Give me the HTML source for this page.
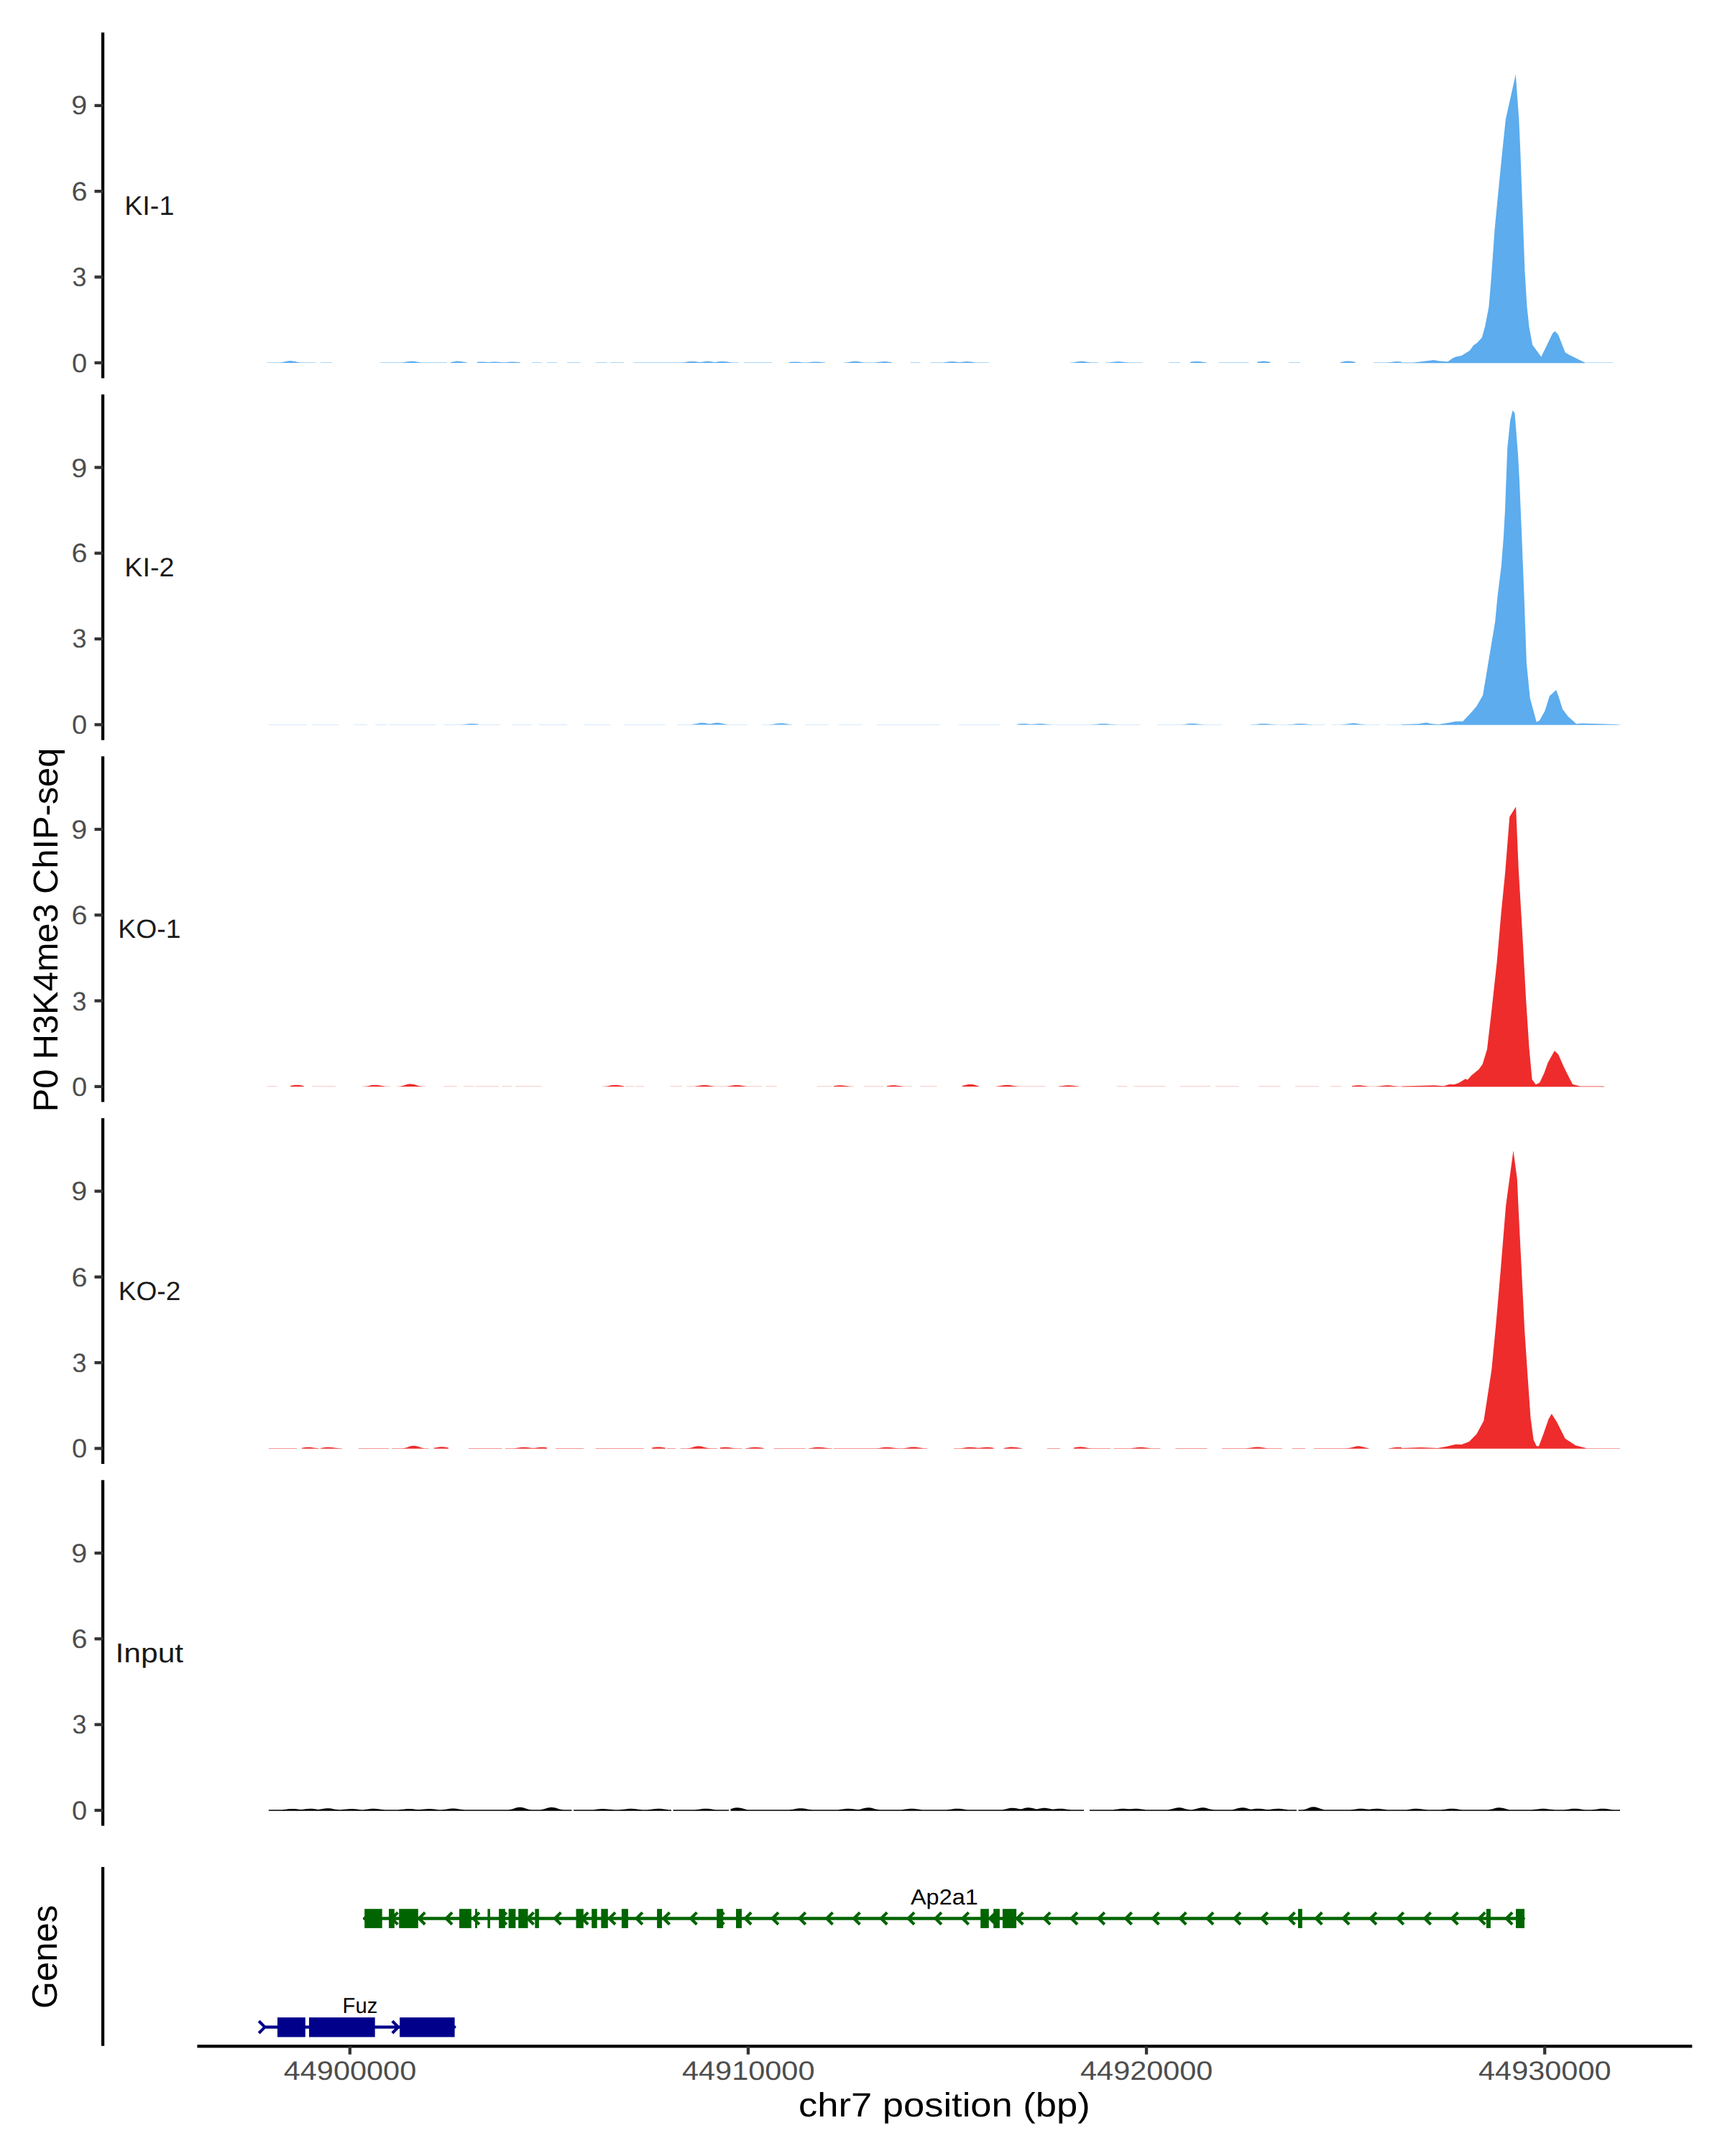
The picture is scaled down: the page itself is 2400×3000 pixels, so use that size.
<!DOCTYPE html><html><head><meta charset="utf-8"><style>html,body{margin:0;padding:0;background:#fff;width:2400px;height:3000px;overflow:hidden;}svg{display:block}</style></head><body>
<svg width="2400" height="3000" viewBox="0 0 2400 3000">
<rect x="0" y="0" width="2400" height="3000" fill="#fff"/>
<path d="M371.6,505.02 L371.6,504.58 L374.6,504.58 L377.6,504.58 L380.6,504.58 L383.6,504.58 L386.6,504.58 L389.6,504.52 L392.6,504.10 L395.6,503.43 L398.6,502.72 L401.6,502.22 L404.6,502.09 L407.6,502.38 L410.6,502.99 L413.6,503.72 L416.6,504.31 L419.6,504.58 L422.6,504.58 L425.6,504.58 L428.6,504.58 L431.6,504.58 L434.6,504.58 L437.6,504.58 L438.8,504.58 L438.8,505.02 Z M445.8,505.02 L445.8,504.58 L448.8,504.58 L451.8,504.58 L454.8,504.58 L457.8,504.58 L460.8,504.58 L462.0,504.58 L462.0,505.02 Z M529.3,505.02 L529.3,504.58 L532.3,504.58 L535.3,504.58 L538.3,504.58 L541.3,504.58 L544.3,504.58 L547.3,504.58 L550.3,504.58 L553.3,504.58 L556.3,504.58 L559.3,504.48 L562.3,504.09 L565.3,503.52 L568.3,502.98 L571.3,502.64 L574.3,502.61 L577.3,502.92 L580.3,503.44 L583.3,504.02 L586.3,504.44 L589.3,504.58 L592.3,504.58 L595.3,504.58 L598.3,504.58 L601.3,504.58 L604.3,504.58 L607.3,504.58 L610.3,504.58 L613.3,504.58 L616.3,504.58 L619.3,504.58 L622.0,504.58 L622.0,505.02 Z M626.7,505.02 L626.7,504.02 L629.7,503.44 L632.7,502.92 L635.7,502.61 L638.7,502.64 L641.7,502.98 L644.7,503.52 L647.7,504.09 L650.0,504.41 L650.0,505.02 Z M663.8,505.02 L663.8,503.77 L666.8,503.49 L669.8,503.38 L672.8,503.47 L675.8,503.73 L678.8,504.07 L681.8,503.89 L684.8,503.57 L687.8,503.40 L690.8,503.42 L693.8,503.63 L696.8,503.96 L699.8,504.29 L702.8,504.23 L705.8,503.89 L708.8,503.57 L711.8,503.40 L714.8,503.42 L717.8,503.63 L720.8,503.96 L723.8,504.29 L724.0,504.31 L724.0,505.02 Z M740.0,505.02 L740.0,504.58 L743.0,504.58 L746.0,504.58 L749.0,504.58 L752.0,504.58 L754.0,504.58 L754.0,505.02 Z M761.0,505.02 L761.0,504.58 L764.0,504.58 L767.0,504.58 L770.0,504.58 L773.0,504.58 L775.0,504.58 L775.0,505.02 Z M789.0,505.02 L789.0,504.58 L792.0,504.58 L795.0,504.58 L798.0,504.58 L801.0,504.58 L804.0,504.58 L807.0,504.58 L807.6,504.58 L807.6,505.02 Z M828.5,505.02 L828.5,504.58 L831.5,504.58 L834.5,504.58 L837.5,504.58 L840.5,504.58 L843.5,504.58 L844.7,504.58 L844.7,505.02 Z M849.0,505.02 L849.0,504.58 L852.0,504.58 L855.0,504.58 L858.0,504.58 L861.0,504.58 L864.0,504.58 L867.0,504.58 L868.0,504.58 L868.0,505.02 Z M881.8,505.02 L881.8,504.58 L884.8,504.58 L887.8,504.58 L890.8,504.58 L893.8,504.58 L896.8,504.58 L899.8,504.58 L902.8,504.58 L905.8,504.58 L908.8,504.58 L911.8,504.58 L914.8,504.58 L917.8,504.58 L920.8,504.58 L923.8,504.58 L926.8,504.58 L929.8,504.58 L932.8,504.58 L935.8,504.58 L938.8,504.58 L941.8,504.58 L944.8,504.58 L947.8,504.57 L950.8,504.34 L953.8,503.89 L956.8,503.37 L959.8,502.95 L962.8,502.78 L965.8,502.91 L968.8,503.30 L971.8,503.82 L974.8,504.06 L977.8,503.54 L980.8,503.07 L983.8,502.80 L986.8,502.84 L989.8,503.15 L992.8,503.64 L995.8,503.89 L998.8,503.37 L1001.8,502.95 L1004.8,502.78 L1007.8,502.91 L1010.8,503.30 L1013.8,503.82 L1016.8,504.29 L1019.8,504.56 L1022.8,504.58 L1025.8,504.58 L1028.0,504.58 L1028.0,505.02 Z M1034.8,505.02 L1034.8,504.58 L1037.8,504.58 L1040.8,504.58 L1043.8,504.58 L1046.8,504.58 L1049.8,504.58 L1052.8,504.58 L1055.8,504.58 L1058.8,504.58 L1061.8,504.58 L1064.8,504.58 L1067.8,504.58 L1070.8,504.58 L1073.8,504.58 L1074.0,504.58 L1074.0,505.02 Z M1097.5,505.02 L1097.5,504.04 L1100.5,503.70 L1103.5,503.45 L1106.5,503.38 L1109.5,503.52 L1112.5,503.81 L1115.5,504.15 L1118.5,504.44 L1121.5,504.51 L1124.5,504.26 L1127.5,503.92 L1130.5,503.60 L1133.5,503.41 L1136.5,503.41 L1139.5,503.60 L1142.5,503.92 L1145.5,504.26 L1148.5,504.51 L1148.5,505.02 Z M1174.0,505.02 L1174.0,504.58 L1177.0,504.43 L1180.0,504.02 L1183.0,503.50 L1186.0,503.04 L1189.0,502.80 L1192.0,502.85 L1195.0,503.18 L1198.0,503.68 L1201.0,504.18 L1204.0,504.51 L1207.0,504.58 L1210.0,504.58 L1213.0,504.58 L1216.0,504.52 L1219.0,504.25 L1222.0,503.83 L1225.0,503.41 L1228.0,503.14 L1231.0,503.09 L1234.0,503.30 L1237.0,503.68 L1240.0,504.12 L1241.0,504.25 L1241.0,505.02 Z M1266.7,505.02 L1266.7,504.58 L1269.7,504.58 L1272.7,504.58 L1275.7,504.58 L1278.7,504.58 L1280.6,504.58 L1280.6,505.02 Z M1294.5,505.02 L1294.5,504.58 L1297.5,504.58 L1300.5,504.58 L1303.5,504.58 L1306.5,504.58 L1309.5,504.58 L1312.5,504.41 L1315.5,504.05 L1318.5,503.61 L1321.5,503.25 L1324.5,503.08 L1327.5,503.17 L1330.5,503.48 L1333.5,503.90 L1336.5,503.90 L1339.5,503.48 L1342.5,503.17 L1345.5,503.08 L1348.5,503.25 L1351.5,503.61 L1354.5,504.05 L1357.5,504.41 L1360.5,504.58 L1363.5,504.58 L1366.5,504.58 L1369.5,504.58 L1372.5,504.58 L1375.5,504.58 L1375.7,504.58 L1375.7,505.02 Z M1489.0,505.02 L1489.0,504.58 L1492.0,504.43 L1495.0,504.02 L1498.0,503.50 L1501.0,503.04 L1504.0,502.80 L1507.0,502.85 L1510.0,503.18 L1513.0,503.68 L1516.0,504.18 L1519.0,504.51 L1522.0,504.58 L1525.0,504.58 L1528.0,504.58 L1528.7,504.58 L1528.7,505.02 Z M1538.0,505.02 L1538.0,504.58 L1541.0,504.57 L1544.0,504.36 L1547.0,503.98 L1550.0,503.54 L1553.0,503.21 L1556.0,503.08 L1559.0,503.21 L1562.0,503.54 L1565.0,503.98 L1568.0,504.36 L1571.0,504.57 L1574.0,504.58 L1577.0,504.58 L1580.0,504.58 L1583.0,504.58 L1586.0,504.58 L1589.0,504.58 L1589.0,505.02 Z M1626.0,505.02 L1626.0,504.58 L1629.0,504.58 L1632.0,504.58 L1635.0,504.58 L1638.0,504.58 L1641.0,504.58 L1642.0,504.58 L1642.0,505.02 Z M1656.0,505.02 L1656.0,503.86 L1659.0,503.34 L1662.0,502.93 L1665.0,502.78 L1668.0,502.93 L1671.0,503.34 L1674.0,503.86 L1677.0,504.32 L1679.5,504.54 L1679.5,505.02 Z M1695.7,505.02 L1695.7,504.58 L1698.7,504.58 L1701.7,504.58 L1704.7,504.58 L1707.7,504.58 L1710.7,504.58 L1713.7,504.58 L1716.7,504.58 L1719.7,504.58 L1722.7,504.58 L1725.7,504.58 L1728.7,504.58 L1731.7,504.58 L1734.7,504.58 L1737.5,504.58 L1737.5,505.02 Z M1749.0,505.02 L1749.0,503.78 L1752.0,503.20 L1755.0,502.75 L1758.0,502.58 L1761.0,502.75 L1764.0,503.20 L1767.0,503.78 L1767.6,503.89 L1767.6,505.02 Z M1793.0,505.02 L1793.0,504.58 L1796.0,504.58 L1799.0,504.58 L1802.0,504.58 L1805.0,504.58 L1808.0,504.58 L1809.0,504.58 L1809.0,505.02 Z M1865.0,505.02 L1865.0,504.09 L1868.0,503.48 L1871.0,502.87 L1874.0,502.46 L1877.0,502.40 L1880.0,502.70 L1883.0,503.27 L1886.0,503.90 L1886.0,505.02 Z M1911.0,505.02 L1911.0,504.58 L1914.0,504.58 L1917.0,504.58 L1920.0,504.58 L1923.0,504.58 L1926.0,504.58 L1929.0,504.57 L1932.0,504.36 L1935.0,503.98 L1938.0,503.54 L1941.0,503.21 L1944.0,503.08 L1947.0,503.21 L1950.0,503.54 L1950.0,505.02 Z" fill="#5CACEE"/>
<path d="M1950.0,505.2 L1950.0,504.45 L1966.3,504.45 L1994.9,501.03 L2002.0,502.25 L2014.3,503.27 L2021.4,498.17 L2025.5,496.54 L2033.7,494.80 L2044.9,487.80 L2050.0,480.60 L2055.1,477.00 L2061.8,469.80 L2066.3,453.50 L2071.4,427.00 L2074.5,390.20 L2079.6,318.80 L2085.7,255.50 L2090.8,204.50 L2094.9,165.70 L2108.8,103.50 L2113.3,165.70 L2115.3,210.60 L2118.4,294.30 L2121.4,375.90 L2124.5,427.00 L2127.6,455.50 L2132.2,480.00 L2144.3,496.44 L2160.2,463.70 L2163.3,460.80 L2168.0,465.70 L2177.6,490.21 L2182.7,493.38 L2190.8,497.46 L2205.1,504.45 L2205.1,505.2 Z" fill="#5CACEE"/>
<rect x="2205.1" y="504.58" width="38.9" height="0.45" fill="#5CACEE"/>
<path d="M374.0,1008.57 L374.0,1008.13 L377.0,1008.13 L380.0,1008.13 L383.0,1008.13 L386.0,1008.13 L389.0,1008.13 L392.0,1008.13 L395.0,1008.13 L398.0,1008.13 L401.0,1008.13 L404.0,1008.13 L407.0,1008.13 L410.0,1008.13 L413.0,1008.13 L416.0,1008.13 L419.0,1008.13 L422.0,1008.13 L425.0,1008.13 L427.0,1008.13 L427.0,1008.57 Z M434.0,1008.57 L434.0,1008.13 L437.0,1008.13 L440.0,1008.13 L443.0,1008.13 L446.0,1008.13 L449.0,1008.13 L452.0,1008.13 L455.0,1008.13 L458.0,1008.13 L461.0,1008.13 L464.0,1008.13 L467.0,1008.13 L470.0,1008.13 L471.0,1008.13 L471.0,1008.57 Z M492.0,1008.57 L492.0,1008.13 L495.0,1008.13 L498.0,1008.13 L501.0,1008.13 L504.0,1008.13 L507.0,1008.13 L510.0,1008.13 L511.0,1008.13 L511.0,1008.57 Z M522.0,1008.57 L522.0,1008.13 L525.0,1008.13 L528.0,1008.13 L531.0,1008.13 L534.0,1008.13 L537.0,1008.13 L538.6,1008.13 L538.6,1008.57 Z M541.0,1008.57 L541.0,1008.13 L544.0,1008.13 L547.0,1008.13 L550.0,1008.13 L553.0,1008.13 L556.0,1008.13 L559.0,1008.13 L562.0,1008.13 L565.0,1008.13 L568.0,1008.13 L571.0,1008.13 L574.0,1008.13 L577.0,1008.13 L580.0,1008.13 L583.0,1008.13 L586.0,1008.13 L589.0,1008.13 L592.0,1008.13 L595.0,1008.13 L598.0,1008.13 L601.0,1008.13 L604.0,1008.13 L606.0,1008.13 L606.0,1008.57 Z M617.0,1008.57 L617.0,1008.13 L620.0,1008.13 L623.0,1008.13 L626.0,1008.13 L629.0,1008.13 L632.0,1008.13 L635.0,1008.13 L638.0,1008.13 L641.0,1008.13 L644.0,1008.03 L647.0,1007.76 L650.0,1007.41 L653.0,1007.11 L656.0,1006.94 L659.0,1006.98 L662.0,1007.20 L665.0,1007.53 L666.0,1007.65 L666.0,1008.57 Z M668.4,1008.57 L668.4,1008.13 L671.4,1008.13 L674.4,1008.13 L677.4,1008.13 L680.4,1008.13 L683.4,1008.13 L686.4,1008.13 L689.4,1008.13 L692.4,1008.13 L695.4,1008.13 L696.0,1008.13 L696.0,1008.57 Z M712.5,1008.57 L712.5,1008.13 L715.5,1008.13 L718.5,1008.13 L721.5,1008.13 L724.5,1008.13 L727.5,1008.13 L730.5,1008.13 L733.5,1008.13 L736.5,1008.13 L739.5,1008.13 L740.0,1008.13 L740.0,1008.57 Z M749.6,1008.57 L749.6,1008.13 L752.6,1008.13 L755.6,1008.13 L758.6,1008.13 L761.6,1008.13 L764.6,1008.13 L767.6,1008.13 L770.6,1008.13 L773.6,1008.13 L776.6,1008.13 L779.6,1008.13 L782.6,1008.13 L785.6,1008.13 L788.6,1008.13 L789.0,1008.13 L789.0,1008.57 Z M812.0,1008.57 L812.0,1008.13 L815.0,1008.13 L818.0,1008.13 L821.0,1008.13 L824.0,1008.13 L827.0,1008.13 L830.0,1008.13 L833.0,1008.13 L836.0,1008.13 L839.0,1008.13 L842.0,1008.13 L845.0,1008.13 L848.0,1008.13 L849.0,1008.13 L849.0,1008.57 Z M868.0,1008.57 L868.0,1008.13 L871.0,1008.13 L874.0,1008.13 L877.0,1008.13 L880.0,1008.13 L883.0,1008.13 L886.0,1008.13 L889.0,1008.13 L892.0,1008.13 L895.0,1008.13 L898.0,1008.13 L901.0,1008.13 L904.0,1008.13 L907.0,1008.13 L910.0,1008.13 L913.0,1008.13 L916.0,1008.13 L919.0,1008.13 L922.0,1008.13 L925.0,1008.13 L926.0,1008.13 L926.0,1008.57 Z M942.0,1008.57 L942.0,1008.13 L945.0,1008.13 L948.0,1008.13 L951.0,1008.13 L954.0,1008.13 L957.0,1008.13 L960.0,1008.13 L963.0,1008.03 L966.0,1007.57 L969.0,1006.88 L972.0,1006.19 L975.0,1005.73 L978.0,1005.65 L981.0,1006.00 L984.0,1006.64 L987.0,1007.36 L990.0,1006.88 L993.0,1006.19 L996.0,1005.73 L999.0,1005.65 L1002.0,1006.00 L1005.0,1006.64 L1008.0,1007.36 L1011.0,1007.92 L1014.0,1008.13 L1017.0,1008.13 L1020.0,1008.13 L1023.0,1008.13 L1026.0,1008.13 L1029.0,1008.13 L1032.0,1008.13 L1035.0,1008.13 L1038.0,1008.13 L1039.5,1008.13 L1039.5,1008.57 Z M1060.0,1008.57 L1060.0,1008.13 L1063.0,1008.13 L1066.0,1008.13 L1069.0,1008.13 L1072.0,1008.06 L1075.0,1007.73 L1078.0,1007.23 L1081.0,1006.73 L1084.0,1006.40 L1087.0,1006.35 L1090.0,1006.59 L1093.0,1007.05 L1096.0,1007.57 L1099.0,1007.98 L1102.0,1008.13 L1102.0,1008.57 Z M1120.7,1008.57 L1120.7,1008.13 L1123.7,1008.13 L1126.7,1008.13 L1129.7,1008.13 L1132.7,1008.13 L1135.7,1008.13 L1138.7,1008.13 L1141.7,1008.13 L1144.7,1008.13 L1147.7,1008.13 L1150.7,1008.13 L1153.0,1008.13 L1153.0,1008.57 Z M1167.0,1008.57 L1167.0,1008.13 L1170.0,1008.13 L1173.0,1008.13 L1176.0,1008.13 L1179.0,1008.13 L1182.0,1008.13 L1185.0,1008.13 L1188.0,1008.13 L1191.0,1008.13 L1194.0,1008.13 L1197.0,1008.13 L1199.4,1008.13 L1199.4,1008.57 Z M1220.0,1008.57 L1220.0,1008.13 L1223.0,1008.13 L1226.0,1008.13 L1229.0,1008.13 L1232.0,1008.13 L1235.0,1008.13 L1238.0,1008.13 L1241.0,1008.13 L1244.0,1008.13 L1247.0,1008.13 L1250.0,1008.13 L1253.0,1008.13 L1256.0,1008.13 L1259.0,1008.13 L1262.0,1008.13 L1265.0,1008.13 L1268.0,1008.13 L1271.0,1008.13 L1274.0,1008.13 L1277.0,1008.13 L1280.0,1008.13 L1283.0,1008.13 L1286.0,1008.13 L1289.0,1008.13 L1292.0,1008.13 L1295.0,1008.13 L1298.0,1008.13 L1301.0,1008.13 L1304.0,1008.13 L1307.0,1008.13 L1308.0,1008.13 L1308.0,1008.57 Z M1334.0,1008.57 L1334.0,1008.13 L1337.0,1008.13 L1340.0,1008.13 L1343.0,1008.13 L1346.0,1008.13 L1349.0,1008.13 L1352.0,1008.13 L1355.0,1008.13 L1358.0,1008.13 L1361.0,1008.13 L1364.0,1008.13 L1367.0,1008.13 L1370.0,1008.13 L1373.0,1008.13 L1376.0,1008.13 L1379.0,1008.13 L1382.0,1008.13 L1385.0,1008.13 L1388.0,1008.13 L1391.0,1008.13 L1392.0,1008.13 L1392.0,1008.57 Z M1415.0,1008.57 L1415.0,1007.65 L1418.0,1007.30 L1421.0,1007.03 L1424.0,1006.93 L1427.0,1007.03 L1430.0,1007.30 L1433.0,1007.65 L1436.0,1007.86 L1439.0,1007.53 L1442.0,1007.20 L1445.0,1006.98 L1448.0,1006.94 L1451.0,1007.11 L1454.0,1007.41 L1457.0,1007.76 L1460.0,1008.03 L1463.0,1008.13 L1466.0,1008.13 L1469.0,1008.13 L1472.0,1008.13 L1475.0,1008.13 L1478.0,1008.13 L1481.0,1008.13 L1484.0,1008.13 L1487.0,1008.13 L1490.0,1008.13 L1493.0,1008.13 L1496.0,1008.13 L1499.0,1008.13 L1502.0,1008.13 L1505.0,1008.13 L1508.0,1008.13 L1511.0,1008.13 L1514.0,1008.13 L1517.0,1008.13 L1520.0,1008.12 L1523.0,1007.95 L1526.0,1007.65 L1529.0,1007.30 L1532.0,1007.03 L1535.0,1006.93 L1538.0,1007.03 L1541.0,1007.30 L1544.0,1007.65 L1547.0,1007.95 L1550.0,1008.12 L1553.0,1008.13 L1556.0,1008.13 L1559.0,1008.13 L1562.0,1008.13 L1565.0,1008.13 L1568.0,1008.13 L1571.0,1008.13 L1574.0,1008.13 L1577.0,1008.13 L1580.0,1008.13 L1583.0,1008.13 L1586.0,1008.13 L1586.7,1008.13 L1586.7,1008.57 Z M1610.0,1008.57 L1610.0,1008.13 L1613.0,1008.13 L1616.0,1008.13 L1619.0,1008.13 L1622.0,1008.13 L1625.0,1008.13 L1628.0,1008.13 L1631.0,1008.13 L1634.0,1008.13 L1637.0,1008.13 L1640.0,1008.13 L1643.0,1008.13 L1646.0,1008.00 L1649.0,1007.67 L1652.0,1007.23 L1655.0,1006.85 L1658.0,1006.64 L1661.0,1006.69 L1664.0,1006.96 L1667.0,1007.38 L1670.0,1007.80 L1673.0,1008.07 L1676.0,1008.13 L1679.0,1008.13 L1682.0,1008.13 L1685.0,1008.13 L1688.0,1008.13 L1691.0,1008.13 L1694.0,1008.13 L1697.0,1008.13 L1700.0,1008.13 L1700.0,1008.57 Z M1739.8,1008.57 L1739.8,1008.13 L1742.8,1008.12 L1745.8,1007.97 L1748.8,1007.67 L1751.8,1007.32 L1754.8,1007.04 L1757.8,1006.93 L1760.8,1007.02 L1763.8,1007.28 L1766.8,1007.62 L1769.8,1007.94 L1772.8,1008.11 L1775.8,1008.13 L1778.8,1008.13 L1781.8,1008.13 L1784.8,1008.13 L1787.8,1008.13 L1790.8,1008.13 L1793.8,1008.12 L1796.8,1007.97 L1799.8,1007.67 L1802.8,1007.32 L1805.8,1007.04 L1808.8,1006.93 L1811.8,1007.02 L1814.8,1007.28 L1817.8,1007.62 L1820.8,1007.94 L1823.8,1008.11 L1826.8,1008.13 L1829.8,1008.13 L1832.8,1008.13 L1835.8,1008.13 L1838.8,1008.13 L1841.8,1008.13 L1844.0,1008.13 L1844.0,1008.57 Z M1853.0,1008.57 L1853.0,1008.13 L1856.0,1008.13 L1859.0,1008.13 L1862.0,1008.13 L1865.0,1008.13 L1868.0,1008.11 L1871.0,1007.87 L1874.0,1007.41 L1877.0,1006.89 L1880.0,1006.48 L1883.0,1006.33 L1886.0,1006.48 L1889.0,1006.89 L1892.0,1007.41 L1895.0,1007.87 L1898.0,1008.11 L1901.0,1008.13 L1904.0,1008.13 L1907.0,1008.13 L1910.0,1008.13 L1913.0,1008.13 L1916.0,1008.13 L1919.0,1008.13 L1920.7,1008.13 L1920.7,1008.57 Z M1927.6,1008.57 L1927.6,1008.13 L1930.6,1008.13 L1933.6,1008.13 L1936.6,1008.13 L1939.6,1008.13 L1942.6,1008.13 L1945.6,1008.13 L1948.6,1008.13 L1950.0,1008.13 L1950.0,1008.57 Z" fill="#5CACEE"/>
<path d="M1950.0,1008.7 L1950.0,1008.00 L1973.5,1007.26 L1984.1,1005.52 L1992.7,1007.26 L2001.2,1007.91 L2014.0,1006.06 L2025.7,1003.66 L2035.3,1003.66 L2048.2,990.00 L2054.5,982.50 L2063.1,967.50 L2080.2,865.10 L2083.4,831.00 L2088.7,788.30 L2091.9,747.80 L2094.0,709.40 L2097.2,624.00 L2101.1,585.60 L2104.5,571.10 L2107.5,574.90 L2112.2,634.70 L2114.3,675.20 L2117.5,752.00 L2120.7,833.10 L2123.9,922.70 L2128.8,971.80 L2137.8,1004.86 L2142.0,1002.57 L2149.5,988.90 L2155.9,968.60 L2165.1,960.10 L2168.7,969.70 L2174.0,986.70 L2181.5,996.69 L2193.2,1007.15 L2200.7,1006.50 L2250.0,1008.00 L2250.0,1008.7 Z" fill="#5CACEE"/>
<rect x="2250.0" y="1008.13" width="4.0" height="0.45" fill="#5CACEE"/>
<path d="M371.6,1512.12 L371.6,1511.68 L374.6,1511.68 L377.6,1511.68 L380.6,1511.68 L383.6,1511.68 L385.5,1511.68 L385.5,1512.12 Z M404.0,1512.12 L404.0,1510.88 L407.0,1510.30 L410.0,1509.85 L413.0,1509.68 L416.0,1509.85 L419.0,1510.30 L422.0,1510.88 L422.6,1510.99 L422.6,1512.12 Z M434.0,1512.12 L434.0,1511.68 L437.0,1511.68 L440.0,1511.68 L443.0,1511.68 L446.0,1511.68 L449.0,1511.68 L452.0,1511.68 L455.0,1511.68 L458.0,1511.68 L461.0,1511.68 L464.0,1511.68 L466.7,1511.68 L466.7,1512.12 Z M503.8,1512.12 L503.8,1511.68 L506.8,1511.67 L509.8,1511.41 L512.8,1510.91 L515.8,1510.33 L518.8,1509.87 L521.8,1509.68 L524.8,1509.83 L527.8,1510.26 L530.8,1510.84 L533.8,1511.36 L536.8,1511.65 L539.8,1511.68 L542.8,1511.68 L543.0,1511.68 L543.0,1512.12 Z M552.5,1512.12 L552.5,1511.68 L555.5,1511.67 L558.5,1511.28 L561.5,1510.44 L564.5,1509.42 L567.5,1508.58 L570.5,1508.19 L573.5,1508.39 L576.5,1509.11 L579.5,1510.10 L582.5,1511.04 L585.5,1511.60 L588.5,1511.68 L591.5,1511.68 L592.0,1511.68 L592.0,1512.12 Z M617.4,1512.12 L617.4,1511.68 L620.4,1511.68 L623.4,1511.68 L626.4,1511.68 L629.4,1511.68 L632.4,1511.68 L635.4,1511.68 L636.0,1511.68 L636.0,1512.12 Z M645.0,1512.12 L645.0,1511.68 L648.0,1511.68 L651.0,1511.68 L654.0,1511.68 L657.0,1511.68 L659.0,1511.68 L659.0,1512.12 Z M661.5,1512.12 L661.5,1511.68 L664.5,1511.68 L667.5,1511.68 L670.5,1511.68 L673.5,1511.68 L676.5,1511.68 L679.5,1511.68 L682.5,1511.68 L685.5,1511.68 L688.5,1511.68 L691.5,1511.68 L694.0,1511.68 L694.0,1512.12 Z M698.6,1512.12 L698.6,1511.68 L701.6,1511.68 L704.6,1511.68 L707.6,1511.68 L710.6,1511.68 L712.5,1511.68 L712.5,1512.12 Z M717.0,1512.12 L717.0,1511.68 L720.0,1511.68 L723.0,1511.68 L726.0,1511.68 L729.0,1511.68 L732.0,1511.68 L735.0,1511.68 L738.0,1511.68 L741.0,1511.68 L744.0,1511.68 L747.0,1511.68 L750.0,1511.68 L753.0,1511.68 L754.0,1511.68 L754.0,1512.12 Z M837.7,1512.12 L837.7,1511.68 L840.7,1511.67 L843.7,1511.43 L846.7,1510.93 L849.7,1510.35 L852.7,1509.88 L855.7,1509.68 L858.7,1509.82 L861.7,1510.24 L864.7,1510.82 L867.7,1511.34 L868.0,1511.39 L868.0,1512.12 Z M870.0,1512.12 L870.0,1511.68 L873.0,1511.68 L876.0,1511.68 L879.0,1511.68 L882.0,1511.68 L882.0,1512.12 Z M884.0,1512.12 L884.0,1511.68 L887.0,1511.68 L890.0,1511.68 L893.0,1511.68 L896.0,1511.68 L896.0,1512.12 Z M933.0,1512.12 L933.0,1511.68 L936.0,1511.68 L939.0,1511.68 L942.0,1511.68 L945.0,1511.68 L948.0,1511.68 L949.0,1511.68 L949.0,1512.12 Z M956.0,1512.12 L956.0,1511.68 L959.0,1511.68 L962.0,1511.68 L965.0,1511.66 L968.0,1511.42 L971.0,1510.96 L974.0,1510.44 L977.0,1510.03 L980.0,1509.88 L983.0,1510.03 L986.0,1510.44 L989.0,1510.96 L992.0,1511.42 L995.0,1511.66 L998.0,1511.68 L1001.0,1511.68 L1004.0,1511.68 L1007.0,1511.68 L1010.0,1511.66 L1013.0,1511.42 L1016.0,1510.96 L1019.0,1510.44 L1022.0,1510.03 L1025.0,1509.88 L1028.0,1510.03 L1031.0,1510.44 L1034.0,1510.96 L1037.0,1511.42 L1040.0,1511.66 L1043.0,1511.68 L1046.0,1511.68 L1049.0,1511.68 L1052.0,1511.68 L1055.0,1511.68 L1058.0,1511.68 L1060.0,1511.68 L1060.0,1512.12 Z M1065.0,1512.12 L1065.0,1511.68 L1068.0,1511.68 L1071.0,1511.68 L1074.0,1511.68 L1077.0,1511.68 L1080.0,1511.68 L1081.0,1511.68 L1081.0,1512.12 Z M1137.0,1512.12 L1137.0,1511.68 L1140.0,1511.68 L1143.0,1511.68 L1146.0,1511.68 L1149.0,1511.68 L1152.0,1511.68 L1155.0,1511.68 L1158.0,1511.68 L1158.0,1512.12 Z M1160.0,1512.12 L1160.0,1511.08 L1163.0,1510.64 L1166.0,1510.31 L1169.0,1510.18 L1172.0,1510.31 L1175.0,1510.64 L1178.0,1511.08 L1181.0,1511.46 L1184.0,1511.67 L1187.0,1511.68 L1188.0,1511.68 L1188.0,1512.12 Z M1201.7,1512.12 L1201.7,1511.68 L1204.7,1511.68 L1207.7,1511.68 L1210.7,1511.68 L1213.7,1511.68 L1216.7,1511.68 L1219.7,1511.68 L1222.7,1511.68 L1225.7,1511.68 L1228.7,1511.68 L1229.6,1511.68 L1229.6,1512.12 Z M1234.0,1512.12 L1234.0,1511.08 L1237.0,1510.64 L1240.0,1510.31 L1243.0,1510.18 L1246.0,1510.31 L1249.0,1510.64 L1252.0,1511.08 L1255.0,1511.46 L1258.0,1511.67 L1261.0,1511.68 L1264.0,1511.68 L1267.0,1511.68 L1269.0,1511.68 L1269.0,1512.12 Z M1280.6,1512.12 L1280.6,1511.68 L1283.6,1511.68 L1286.6,1511.68 L1289.6,1511.68 L1292.6,1511.68 L1295.6,1511.68 L1298.6,1511.68 L1301.6,1511.68 L1303.8,1511.68 L1303.8,1512.12 Z M1338.6,1512.12 L1338.6,1511.11 L1341.6,1510.30 L1344.6,1509.45 L1347.6,1508.84 L1350.6,1508.69 L1353.6,1509.04 L1356.6,1509.77 L1359.6,1510.64 L1361.8,1511.20 L1361.8,1512.12 Z M1385.0,1512.12 L1385.0,1511.68 L1388.0,1511.51 L1391.0,1511.06 L1394.0,1510.48 L1397.0,1509.97 L1400.0,1509.70 L1403.0,1509.76 L1406.0,1510.12 L1409.0,1510.68 L1412.0,1511.24 L1415.0,1511.60 L1418.0,1511.68 L1421.0,1511.68 L1424.0,1511.68 L1427.0,1511.68 L1430.0,1511.68 L1433.0,1511.68 L1436.0,1511.68 L1439.0,1511.68 L1442.0,1511.68 L1445.0,1511.68 L1448.0,1511.68 L1451.0,1511.68 L1454.0,1511.68 L1454.5,1511.68 L1454.5,1512.12 Z M1473.0,1512.12 L1473.0,1511.62 L1476.0,1511.35 L1479.0,1510.93 L1482.0,1510.51 L1485.0,1510.24 L1488.0,1510.19 L1491.0,1510.40 L1494.0,1510.78 L1497.0,1511.22 L1500.0,1511.55 L1501.0,1511.62 L1501.0,1512.12 Z M1554.0,1512.12 L1554.0,1511.68 L1557.0,1511.68 L1560.0,1511.68 L1563.0,1511.68 L1566.0,1511.68 L1568.0,1511.68 L1568.0,1512.12 Z M1577.4,1512.12 L1577.4,1511.68 L1580.4,1511.68 L1583.4,1511.68 L1586.4,1511.68 L1589.4,1511.68 L1592.4,1511.68 L1595.4,1511.68 L1598.4,1511.68 L1601.4,1511.68 L1604.4,1511.68 L1607.4,1511.68 L1610.4,1511.68 L1613.4,1511.68 L1616.4,1511.68 L1619.4,1511.68 L1621.5,1511.68 L1621.5,1512.12 Z M1642.0,1512.12 L1642.0,1511.68 L1645.0,1511.68 L1648.0,1511.68 L1651.0,1511.68 L1654.0,1511.68 L1657.0,1511.68 L1660.0,1511.68 L1663.0,1511.68 L1666.0,1511.68 L1669.0,1511.68 L1672.0,1511.68 L1675.0,1511.68 L1678.0,1511.68 L1681.0,1511.68 L1684.0,1511.68 L1684.0,1512.12 Z M1691.0,1512.12 L1691.0,1511.68 L1694.0,1511.68 L1697.0,1511.68 L1700.0,1511.68 L1703.0,1511.68 L1706.0,1511.68 L1709.0,1511.68 L1712.0,1511.68 L1715.0,1511.68 L1718.0,1511.68 L1721.0,1511.68 L1723.5,1511.68 L1723.5,1512.12 Z M1751.0,1512.12 L1751.0,1511.68 L1754.0,1511.68 L1757.0,1511.68 L1760.0,1511.68 L1763.0,1511.68 L1766.0,1511.68 L1769.0,1511.68 L1772.0,1511.68 L1775.0,1511.68 L1778.0,1511.68 L1781.0,1511.68 L1781.5,1511.68 L1781.5,1512.12 Z M1802.0,1512.12 L1802.0,1511.68 L1805.0,1511.68 L1808.0,1511.68 L1811.0,1511.68 L1814.0,1511.68 L1817.0,1511.68 L1820.0,1511.68 L1823.0,1511.68 L1826.0,1511.68 L1829.0,1511.68 L1832.0,1511.68 L1835.0,1511.68 L1835.0,1512.12 Z M1851.0,1512.12 L1851.0,1511.68 L1854.0,1511.68 L1857.0,1511.68 L1860.0,1511.68 L1863.0,1511.68 L1866.0,1511.68 L1867.0,1511.68 L1867.0,1512.12 Z M1881.0,1512.12 L1881.0,1511.08 L1884.0,1510.64 L1887.0,1510.31 L1890.0,1510.18 L1893.0,1510.31 L1896.0,1510.64 L1899.0,1511.08 L1902.0,1511.46 L1905.0,1511.67 L1908.0,1511.68 L1911.0,1511.68 L1914.0,1511.68 L1917.0,1511.55 L1920.0,1511.22 L1923.0,1510.78 L1926.0,1510.40 L1929.0,1510.19 L1932.0,1510.24 L1935.0,1510.51 L1938.0,1510.93 L1941.0,1511.35 L1944.0,1511.62 L1947.0,1511.68 L1950.0,1511.68 L1950.0,1512.12 Z" fill="#EE2C2C"/>
<path d="M1950.0,1512.2 L1950.0,1511.55 L1995.9,1510.32 L2008.5,1511.37 L2016.8,1508.63 L2023.1,1509.06 L2029.3,1507.05 L2038.7,1501.37 L2041.9,1502.53 L2047.1,1496.52 L2057.5,1488.10 L2062.7,1480.80 L2069.0,1460.00 L2075.3,1405.70 L2082.6,1338.90 L2088.8,1267.90 L2094.0,1215.70 L2100.3,1136.40 L2109.1,1122.40 L2112.8,1209.40 L2118.1,1299.20 L2123.3,1393.20 L2127.5,1457.90 L2131.6,1502.00 L2136.8,1509.06 L2142.1,1506.42 L2148.3,1493.40 L2153.5,1478.70 L2162.9,1462.00 L2168.2,1467.30 L2175.5,1484.00 L2181.7,1496.52 L2188.0,1508.63 L2198.4,1511.48 L2231.8,1511.55 L2231.8,1512.2 Z" fill="#EE2C2C"/>
<rect x="2231.8" y="1511.68" width="0.2" height="0.45" fill="#EE2C2C"/>
<path d="M374.0,2015.67 L374.0,2015.23 L377.0,2015.23 L380.0,2015.23 L383.0,2015.23 L386.0,2015.23 L389.0,2015.23 L392.0,2015.23 L395.0,2015.23 L398.0,2015.23 L401.0,2015.23 L404.0,2015.23 L407.0,2015.23 L410.0,2015.23 L413.0,2015.23 L413.0,2015.67 Z M420.0,2015.67 L420.0,2014.63 L423.0,2014.19 L426.0,2013.86 L429.0,2013.73 L432.0,2013.86 L435.0,2014.19 L438.0,2014.63 L441.0,2015.01 L443.5,2015.20 L443.5,2015.67 Z M446.0,2015.67 L446.0,2014.90 L449.0,2014.48 L452.0,2014.06 L455.0,2013.79 L458.0,2013.74 L461.0,2013.95 L464.0,2014.33 L467.0,2014.77 L470.0,2015.10 L473.0,2015.23 L476.0,2015.23 L476.0,2015.67 Z M499.0,2015.67 L499.0,2015.23 L502.0,2015.23 L505.0,2015.23 L508.0,2015.23 L511.0,2015.23 L514.0,2015.23 L517.0,2015.23 L520.0,2015.23 L523.0,2015.23 L526.0,2015.23 L529.0,2015.23 L532.0,2015.23 L535.0,2015.23 L538.0,2015.23 L541.0,2015.23 L541.0,2015.67 Z M545.5,2015.67 L545.5,2015.23 L548.5,2015.23 L551.5,2015.23 L554.5,2015.23 L557.5,2015.23 L560.5,2015.21 L563.5,2014.77 L566.5,2013.89 L569.5,2012.87 L572.5,2012.06 L575.5,2011.73 L578.5,2011.99 L581.5,2012.75 L584.5,2013.75 L587.5,2014.67 L590.5,2015.18 L593.5,2015.23 L596.5,2015.23 L596.5,2015.67 Z M603.5,2015.67 L603.5,2014.86 L606.5,2014.33 L609.5,2013.76 L612.5,2013.35 L615.5,2013.23 L618.5,2013.46 L621.5,2013.94 L624.0,2014.43 L624.0,2015.67 Z M652.0,2015.67 L652.0,2015.23 L655.0,2015.23 L658.0,2015.23 L661.0,2015.23 L664.0,2015.23 L667.0,2015.23 L670.0,2015.23 L673.0,2015.23 L676.0,2015.23 L679.0,2015.23 L682.0,2015.23 L685.0,2015.23 L688.0,2015.23 L691.0,2015.23 L694.0,2015.23 L697.0,2015.23 L698.6,2015.23 L698.6,2015.67 Z M703.0,2015.67 L703.0,2015.23 L706.0,2015.23 L709.0,2015.23 L712.0,2015.23 L715.0,2015.17 L718.0,2014.90 L721.0,2014.48 L724.0,2014.06 L727.0,2013.79 L730.0,2013.74 L733.0,2013.95 L736.0,2014.33 L739.0,2014.77 L742.0,2015.01 L745.0,2014.63 L748.0,2014.19 L751.0,2013.86 L754.0,2013.73 L757.0,2013.86 L760.0,2014.19 L761.0,2014.33 L761.0,2015.67 Z M773.0,2015.67 L773.0,2015.23 L776.0,2015.23 L779.0,2015.23 L782.0,2015.23 L785.0,2015.23 L788.0,2015.23 L791.0,2015.23 L794.0,2015.23 L797.0,2015.23 L800.0,2015.23 L803.0,2015.23 L806.0,2015.23 L809.0,2015.23 L812.0,2015.23 L812.0,2015.67 Z M828.5,2015.67 L828.5,2015.23 L831.5,2015.23 L834.5,2015.23 L837.5,2015.23 L840.5,2015.23 L843.5,2015.23 L846.5,2015.23 L849.5,2015.23 L852.5,2015.23 L855.5,2015.23 L858.5,2015.23 L861.5,2015.23 L864.5,2015.23 L867.5,2015.23 L870.5,2015.23 L873.5,2015.23 L876.5,2015.23 L879.5,2015.23 L882.5,2015.23 L885.5,2015.23 L888.5,2015.23 L891.5,2015.23 L894.5,2015.23 L895.7,2015.23 L895.7,2015.67 Z M907.0,2015.67 L907.0,2014.51 L910.0,2013.99 L913.0,2013.58 L916.0,2013.43 L919.0,2013.58 L922.0,2013.99 L925.0,2014.51 L926.0,2014.67 L926.0,2015.67 Z M928.0,2015.67 L928.0,2015.23 L931.0,2015.23 L934.0,2015.23 L937.0,2015.23 L940.0,2015.23 L940.0,2015.67 Z M946.7,2015.67 L946.7,2015.23 L949.7,2015.23 L952.7,2015.23 L955.7,2015.23 L958.7,2015.02 L961.7,2014.38 L964.7,2013.52 L967.7,2012.73 L970.7,2012.28 L973.7,2012.31 L976.7,2012.82 L979.7,2013.64 L982.7,2014.49 L985.7,2015.08 L988.7,2015.23 L991.7,2015.23 L994.7,2015.23 L997.7,2015.23 L997.7,2015.67 Z M1002.0,2015.67 L1002.0,2014.33 L1005.0,2013.95 L1008.0,2013.74 L1011.0,2013.79 L1014.0,2014.06 L1017.0,2014.48 L1020.0,2014.90 L1023.0,2015.17 L1026.0,2015.23 L1029.0,2015.23 L1032.0,2015.23 L1032.5,2015.23 L1032.5,2015.67 Z M1037.0,2015.67 L1037.0,2015.17 L1040.0,2014.90 L1043.0,2014.48 L1046.0,2014.06 L1049.0,2013.79 L1052.0,2013.74 L1055.0,2013.95 L1058.0,2014.33 L1061.0,2014.77 L1062.7,2014.98 L1062.7,2015.67 Z M1076.6,2015.67 L1076.6,2015.23 L1079.6,2015.23 L1082.6,2015.23 L1085.6,2015.23 L1088.6,2015.23 L1091.6,2015.23 L1094.6,2015.23 L1097.6,2015.23 L1100.6,2015.23 L1103.6,2015.23 L1106.6,2015.23 L1109.6,2015.23 L1112.6,2015.23 L1115.6,2015.23 L1118.6,2015.23 L1120.7,2015.23 L1120.7,2015.67 Z M1125.0,2015.67 L1125.0,2015.17 L1128.0,2014.90 L1131.0,2014.48 L1134.0,2014.06 L1137.0,2013.79 L1140.0,2013.74 L1143.0,2013.95 L1146.0,2014.33 L1149.0,2014.77 L1152.0,2015.10 L1155.0,2015.23 L1157.8,2015.23 L1157.8,2015.67 Z M1160.0,2015.67 L1160.0,2015.23 L1163.0,2015.23 L1166.0,2015.23 L1169.0,2015.23 L1172.0,2015.23 L1175.0,2015.23 L1178.0,2015.23 L1181.0,2015.23 L1184.0,2015.23 L1187.0,2015.23 L1190.0,2015.23 L1193.0,2015.23 L1196.0,2015.23 L1199.0,2015.23 L1202.0,2015.23 L1205.0,2015.23 L1208.0,2015.23 L1211.0,2015.23 L1214.0,2015.23 L1217.0,2015.23 L1220.0,2015.17 L1223.0,2014.90 L1226.0,2014.48 L1229.0,2014.06 L1232.0,2013.79 L1235.0,2013.74 L1238.0,2013.95 L1241.0,2014.33 L1244.0,2014.77 L1247.0,2015.10 L1250.0,2015.23 L1253.0,2015.23 L1256.0,2015.21 L1259.0,2014.97 L1262.0,2014.51 L1265.0,2013.99 L1268.0,2013.58 L1271.0,2013.43 L1274.0,2013.58 L1277.0,2013.99 L1280.0,2014.51 L1283.0,2014.97 L1286.0,2015.21 L1289.0,2015.23 L1290.0,2015.23 L1290.0,2015.67 Z M1327.0,2015.67 L1327.0,2015.23 L1330.0,2015.23 L1333.0,2015.23 L1336.0,2015.17 L1339.0,2014.90 L1342.0,2014.48 L1345.0,2014.06 L1348.0,2013.79 L1351.0,2013.74 L1354.0,2013.95 L1357.0,2014.33 L1360.0,2014.77 L1363.0,2014.77 L1366.0,2014.33 L1369.0,2013.95 L1372.0,2013.74 L1375.0,2013.79 L1378.0,2014.06 L1381.0,2014.48 L1382.6,2014.71 L1382.6,2015.67 Z M1396.5,2015.67 L1396.5,2014.90 L1399.5,2014.42 L1402.5,2013.91 L1405.5,2013.54 L1408.5,2013.43 L1411.5,2013.63 L1414.5,2014.07 L1417.5,2014.59 L1420.5,2015.03 L1422.0,2015.16 L1422.0,2015.67 Z M1457.0,2015.67 L1457.0,2015.23 L1460.0,2015.23 L1463.0,2015.23 L1466.0,2015.23 L1469.0,2015.23 L1472.0,2015.23 L1475.0,2015.23 L1475.0,2015.67 Z M1494.0,2015.67 L1494.0,2014.43 L1497.0,2013.85 L1500.0,2013.40 L1503.0,2013.23 L1506.0,2013.40 L1509.0,2013.85 L1512.0,2014.43 L1515.0,2014.94 L1518.0,2015.21 L1521.0,2015.23 L1524.0,2015.23 L1527.0,2015.23 L1530.0,2015.23 L1533.0,2015.23 L1536.0,2015.23 L1539.0,2015.23 L1542.0,2015.23 L1545.0,2015.23 L1545.0,2015.67 Z M1549.6,2015.67 L1549.6,2015.23 L1552.6,2015.23 L1555.6,2015.23 L1558.6,2015.23 L1561.6,2015.23 L1564.6,2015.23 L1567.6,2015.23 L1570.6,2015.23 L1573.6,2015.13 L1576.6,2014.82 L1579.6,2014.39 L1582.6,2013.99 L1585.6,2013.76 L1588.6,2013.77 L1591.6,2014.02 L1594.6,2014.42 L1597.6,2014.85 L1600.6,2015.15 L1603.6,2015.23 L1606.6,2015.23 L1609.6,2015.23 L1612.6,2015.23 L1614.5,2015.23 L1614.5,2015.67 Z M1635.4,2015.67 L1635.4,2015.23 L1638.4,2015.23 L1641.4,2015.23 L1644.4,2015.23 L1647.4,2015.23 L1650.4,2015.23 L1653.4,2015.23 L1656.4,2015.23 L1659.4,2015.23 L1662.4,2015.23 L1665.4,2015.23 L1668.4,2015.23 L1671.4,2015.23 L1674.4,2015.23 L1677.4,2015.23 L1679.5,2015.23 L1679.5,2015.67 Z M1700.0,2015.67 L1700.0,2015.23 L1703.0,2015.23 L1706.0,2015.23 L1709.0,2015.23 L1712.0,2015.23 L1715.0,2015.23 L1718.0,2015.23 L1721.0,2015.23 L1724.0,2015.23 L1727.0,2015.23 L1730.0,2015.23 L1733.0,2015.23 L1736.0,2015.08 L1739.0,2014.67 L1742.0,2014.15 L1745.0,2013.69 L1748.0,2013.45 L1751.0,2013.50 L1754.0,2013.83 L1757.0,2014.33 L1760.0,2014.83 L1763.0,2015.16 L1766.0,2015.23 L1769.0,2015.23 L1772.0,2015.23 L1775.0,2015.23 L1778.0,2015.23 L1781.0,2015.23 L1784.0,2015.23 L1784.0,2015.67 Z M1797.7,2015.67 L1797.7,2015.23 L1800.7,2015.23 L1803.7,2015.23 L1806.7,2015.23 L1809.7,2015.23 L1812.7,2015.23 L1815.7,2015.23 L1816.0,2015.23 L1816.0,2015.67 Z M1828.0,2015.67 L1828.0,2015.23 L1831.0,2015.23 L1834.0,2015.23 L1837.0,2015.23 L1840.0,2015.23 L1843.0,2015.23 L1846.0,2015.23 L1849.0,2015.23 L1852.0,2015.23 L1855.0,2015.23 L1858.0,2015.23 L1861.0,2015.23 L1864.0,2015.23 L1867.0,2015.23 L1870.0,2015.23 L1873.0,2015.23 L1876.0,2015.12 L1879.0,2014.56 L1882.0,2013.73 L1885.0,2012.90 L1888.0,2012.34 L1891.0,2012.26 L1894.0,2012.67 L1897.0,2013.44 L1900.0,2014.30 L1903.0,2014.98 L1904.5,2015.17 L1904.5,2015.67 Z M1932.0,2015.67 L1932.0,2015.17 L1935.0,2014.90 L1938.0,2014.48 L1941.0,2014.06 L1944.0,2013.79 L1947.0,2013.74 L1950.0,2013.95 L1950.0,2015.67 Z" fill="#EE2C2C"/>
<path d="M1950.0,2015.8 L1950.0,2015.10 L1977.1,2014.04 L2000.1,2015.05 L2012.6,2012.72 L2025.2,2009.69 L2033.5,2010.10 L2044.0,2005.96 L2054.4,1995.40 L2064.4,1976.70 L2075.3,1905.70 L2081.5,1841.00 L2087.8,1767.90 L2095.1,1678.10 L2105.5,1600.90 L2110.8,1640.50 L2112.8,1684.40 L2117.0,1767.90 L2121.2,1851.40 L2125.4,1914.00 L2129.5,1972.50 L2133.7,2003.84 L2137.9,2012.22 L2141.0,2012.22 L2147.3,1995.40 L2154.6,1974.60 L2158.8,1967.30 L2166.1,1978.70 L2177.6,2001.71 L2192.2,2011.21 L2206.8,2015.10 L2206.8,2015.8 Z" fill="#EE2C2C"/>
<rect x="2206.8" y="2015.23" width="47.2" height="0.45" fill="#EE2C2C"/>
<path d="M373.8,2519.80 L373.8,2518.20 L376.8,2518.20 L379.8,2518.20 L382.8,2518.20 L385.8,2518.20 L388.8,2518.20 L391.8,2518.19 L394.8,2518.02 L397.8,2517.72 L400.8,2517.37 L403.8,2517.10 L406.8,2517.00 L409.8,2517.10 L412.8,2517.37 L415.8,2517.72 L418.8,2518.02 L421.8,2517.71 L424.8,2517.27 L427.8,2516.90 L430.8,2516.71 L433.8,2516.77 L436.8,2517.06 L439.8,2517.48 L442.8,2517.89 L445.8,2517.62 L448.8,2517.04 L451.8,2516.52 L454.8,2516.23 L457.8,2516.26 L460.8,2516.61 L463.8,2517.16 L466.8,2517.72 L469.8,2518.11 L472.8,2518.20 L475.8,2518.11 L478.8,2517.85 L481.8,2517.51 L484.8,2517.19 L487.8,2517.02 L490.8,2517.04 L493.8,2517.25 L496.8,2517.58 L499.8,2517.91 L502.8,2518.14 L505.8,2518.14 L508.8,2517.85 L511.8,2517.44 L514.8,2517.02 L517.8,2516.75 L520.8,2516.72 L523.8,2516.93 L526.8,2517.32 L529.8,2517.75 L532.8,2518.08 L535.8,2518.20 L538.8,2518.20 L541.8,2518.20 L544.8,2518.20 L547.8,2518.20 L550.8,2518.20 L553.8,2518.19 L556.8,2518.04 L559.8,2517.74 L562.8,2517.39 L565.8,2517.11 L568.8,2517.00 L571.8,2517.09 L574.8,2517.35 L577.8,2517.69 L580.8,2518.01 L583.8,2518.10 L586.8,2517.83 L589.8,2517.48 L592.8,2517.18 L595.8,2517.01 L598.8,2517.05 L601.8,2517.27 L604.8,2517.60 L607.8,2517.93 L610.8,2518.15 L613.8,2518.20 L616.8,2518.07 L619.8,2517.68 L622.8,2517.16 L625.8,2516.69 L628.8,2516.42 L631.8,2516.46 L634.8,2516.77 L637.8,2517.26 L640.8,2517.77 L643.8,2518.12 L646.8,2518.20 L649.8,2518.20 L652.8,2518.20 L655.8,2518.20 L658.8,2518.20 L661.8,2518.20 L664.8,2518.20 L667.8,2518.20 L670.8,2518.20 L673.8,2518.20 L676.8,2518.20 L679.8,2518.20 L682.8,2518.20 L685.8,2518.20 L688.8,2518.20 L691.8,2518.20 L694.8,2518.20 L697.8,2518.20 L700.8,2518.20 L703.8,2518.20 L706.8,2518.20 L709.8,2518.01 L712.8,2517.31 L715.8,2516.31 L718.8,2515.37 L721.8,2514.79 L724.8,2514.77 L727.8,2515.31 L730.8,2516.24 L733.8,2517.24 L736.8,2517.98 L739.8,2518.20 L742.8,2518.20 L745.8,2518.20 L748.8,2518.20 L751.8,2518.20 L754.8,2517.85 L757.8,2517.02 L760.8,2516.01 L763.8,2515.14 L766.8,2514.72 L769.8,2514.88 L772.8,2515.57 L775.8,2516.55 L778.8,2517.51 L781.8,2518.10 L784.8,2518.20 L787.8,2518.20 L790.8,2518.20 L793.8,2518.20 L795.5,2518.20 L795.5,2519.80 Z M798.0,2519.80 L798.0,2518.20 L801.0,2518.20 L804.0,2518.20 L807.0,2518.20 L810.0,2518.20 L813.0,2518.20 L816.0,2518.20 L819.0,2518.20 L822.0,2518.20 L825.0,2518.15 L828.0,2517.93 L831.0,2517.60 L834.0,2517.27 L837.0,2517.05 L840.0,2517.01 L843.0,2517.18 L846.0,2517.48 L849.0,2517.83 L852.0,2518.10 L855.0,2518.20 L858.0,2518.20 L861.0,2518.20 L864.0,2518.12 L867.0,2517.82 L870.0,2517.39 L873.0,2516.99 L876.0,2516.74 L879.0,2516.73 L882.0,2516.96 L885.0,2517.36 L888.0,2517.79 L891.0,2518.10 L894.0,2518.20 L897.0,2518.20 L900.0,2518.20 L903.0,2518.07 L906.0,2517.74 L909.0,2517.30 L912.0,2516.92 L915.0,2516.71 L918.0,2516.76 L921.0,2517.03 L924.0,2517.45 L927.0,2517.87 L930.0,2518.14 L933.0,2518.20 L934.0,2518.20 L934.0,2519.80 Z M936.5,2519.80 L936.5,2518.20 L939.5,2518.20 L942.5,2518.20 L945.5,2518.20 L948.5,2518.20 L951.5,2518.20 L954.5,2518.20 L957.5,2518.20 L960.5,2518.20 L963.5,2518.20 L966.5,2518.20 L969.5,2518.03 L972.5,2517.67 L975.5,2517.23 L978.5,2516.87 L981.5,2516.70 L984.5,2516.79 L987.5,2517.10 L990.5,2517.52 L993.5,2517.93 L996.5,2518.17 L999.5,2518.20 L1002.5,2518.20 L1005.5,2518.20 L1008.5,2518.20 L1011.5,2518.20 L1014.0,2518.20 L1014.0,2519.80 Z M1016.5,2519.80 L1016.5,2517.14 L1019.5,2516.26 L1022.5,2515.54 L1025.5,2515.21 L1028.5,2515.38 L1031.5,2515.99 L1034.5,2516.85 L1037.5,2517.65 L1040.5,2518.14 L1043.5,2518.20 L1046.5,2518.20 L1049.5,2518.20 L1052.5,2518.20 L1055.5,2518.20 L1058.5,2518.20 L1061.5,2518.20 L1064.5,2518.20 L1067.5,2518.20 L1070.5,2518.20 L1073.5,2518.20 L1076.5,2518.20 L1079.5,2518.20 L1082.5,2518.20 L1085.5,2518.20 L1088.5,2518.20 L1091.5,2518.20 L1094.5,2518.20 L1097.5,2518.20 L1100.5,2518.08 L1103.5,2517.67 L1106.5,2517.10 L1109.5,2516.57 L1112.5,2516.24 L1115.5,2516.24 L1118.5,2516.57 L1121.5,2517.10 L1124.5,2517.67 L1127.5,2518.08 L1130.5,2518.20 L1133.5,2518.20 L1136.5,2518.20 L1139.5,2518.20 L1142.5,2518.20 L1145.5,2518.20 L1148.5,2518.20 L1151.5,2518.20 L1154.5,2518.20 L1157.5,2518.20 L1160.5,2518.20 L1163.5,2518.20 L1166.5,2518.14 L1169.5,2517.87 L1172.5,2517.45 L1175.5,2517.03 L1178.5,2516.76 L1181.5,2516.71 L1184.5,2516.92 L1187.5,2517.30 L1190.5,2517.74 L1193.5,2518.07 L1196.5,2517.65 L1199.5,2516.85 L1202.5,2515.99 L1205.5,2515.38 L1208.5,2515.21 L1211.5,2515.54 L1214.5,2516.26 L1217.5,2517.14 L1220.5,2517.86 L1223.5,2518.19 L1226.5,2518.20 L1229.5,2518.20 L1232.5,2518.20 L1235.5,2518.20 L1238.5,2518.20 L1241.5,2518.20 L1244.5,2518.20 L1247.5,2518.20 L1250.5,2518.20 L1253.5,2518.19 L1256.5,2517.99 L1259.5,2517.61 L1262.5,2517.18 L1265.5,2516.83 L1268.5,2516.70 L1271.5,2516.82 L1274.5,2517.15 L1277.5,2517.58 L1280.5,2517.97 L1283.5,2518.18 L1286.5,2518.20 L1289.5,2518.20 L1292.5,2518.20 L1295.5,2518.20 L1298.5,2518.20 L1301.5,2518.20 L1304.5,2518.20 L1307.5,2518.20 L1310.5,2518.20 L1313.5,2518.20 L1316.5,2518.20 L1319.5,2518.03 L1322.5,2517.67 L1325.5,2517.23 L1328.5,2516.87 L1331.5,2516.70 L1334.5,2516.79 L1337.5,2517.10 L1340.5,2517.52 L1343.5,2517.93 L1346.5,2518.17 L1349.5,2518.20 L1352.5,2518.20 L1355.5,2518.20 L1358.5,2518.20 L1361.5,2518.20 L1364.5,2518.20 L1367.5,2518.20 L1370.5,2518.20 L1373.5,2518.20 L1376.5,2518.20 L1379.5,2518.20 L1382.5,2518.20 L1385.5,2518.20 L1388.5,2518.20 L1391.5,2518.20 L1394.5,2518.15 L1397.5,2517.74 L1400.5,2517.07 L1403.5,2516.36 L1406.5,2515.85 L1409.5,2515.71 L1412.5,2515.98 L1415.5,2516.59 L1418.5,2517.31 L1421.5,2517.14 L1424.5,2516.26 L1427.5,2515.54 L1430.5,2515.21 L1433.5,2515.38 L1436.5,2515.99 L1439.5,2516.85 L1442.5,2517.54 L1445.5,2516.83 L1448.5,2516.16 L1451.5,2515.75 L1454.5,2515.75 L1457.5,2516.16 L1460.5,2516.83 L1463.5,2517.54 L1466.5,2517.52 L1469.5,2517.10 L1472.5,2516.79 L1475.5,2516.70 L1478.5,2516.87 L1481.5,2517.23 L1484.5,2517.67 L1487.5,2518.03 L1490.5,2518.20 L1493.5,2518.20 L1496.5,2518.20 L1499.5,2518.20 L1502.5,2518.20 L1505.5,2518.20 L1508.0,2518.20 L1508.0,2519.80 Z M1516.0,2519.80 L1516.0,2518.20 L1519.0,2518.20 L1522.0,2518.20 L1525.0,2518.20 L1528.0,2518.20 L1531.0,2518.20 L1534.0,2518.20 L1537.0,2518.20 L1540.0,2518.20 L1543.0,2518.20 L1546.0,2518.20 L1549.0,2518.14 L1552.0,2517.87 L1555.0,2517.45 L1558.0,2517.03 L1561.0,2516.76 L1564.0,2516.71 L1567.0,2516.92 L1570.0,2517.30 L1573.0,2517.30 L1576.0,2516.92 L1579.0,2516.71 L1582.0,2516.76 L1585.0,2517.03 L1588.0,2517.45 L1591.0,2517.87 L1594.0,2518.14 L1597.0,2518.20 L1600.0,2518.20 L1603.0,2518.20 L1606.0,2518.20 L1609.0,2518.20 L1612.0,2518.20 L1615.0,2518.20 L1618.0,2518.20 L1621.0,2518.20 L1624.0,2518.20 L1627.0,2517.95 L1630.0,2517.27 L1633.0,2516.41 L1636.0,2515.64 L1639.0,2515.23 L1642.0,2515.31 L1645.0,2515.87 L1648.0,2516.70 L1651.0,2517.53 L1654.0,2518.09 L1657.0,2518.20 L1660.0,2517.95 L1663.0,2517.27 L1666.0,2516.41 L1669.0,2515.64 L1672.0,2515.23 L1675.0,2515.31 L1678.0,2515.87 L1681.0,2516.70 L1684.0,2517.53 L1687.0,2518.09 L1690.0,2518.20 L1693.0,2518.20 L1696.0,2518.20 L1699.0,2518.20 L1702.0,2518.20 L1705.0,2518.20 L1708.0,2518.20 L1711.0,2518.20 L1714.0,2518.14 L1717.0,2517.65 L1720.0,2516.85 L1723.0,2515.99 L1726.0,2515.38 L1729.0,2515.21 L1732.0,2515.54 L1735.0,2516.26 L1738.0,2517.14 L1741.0,2517.67 L1744.0,2517.23 L1747.0,2516.87 L1750.0,2516.70 L1753.0,2516.79 L1756.0,2517.10 L1759.0,2517.52 L1762.0,2517.93 L1765.0,2518.07 L1768.0,2517.74 L1771.0,2517.30 L1774.0,2516.92 L1777.0,2516.71 L1780.0,2516.76 L1783.0,2517.03 L1786.0,2517.45 L1789.0,2517.87 L1792.0,2518.14 L1795.0,2518.20 L1798.0,2518.20 L1801.0,2518.20 L1804.0,2518.20 L1804.0,2519.80 Z M1806.5,2519.80 L1806.5,2518.20 L1809.5,2518.20 L1812.5,2518.17 L1815.5,2517.64 L1818.5,2516.63 L1821.5,2515.47 L1824.5,2514.56 L1827.5,2514.20 L1830.5,2514.52 L1833.5,2515.40 L1836.5,2516.55 L1839.5,2517.59 L1842.5,2518.15 L1845.5,2518.20 L1848.5,2518.20 L1851.5,2518.20 L1854.5,2518.20 L1857.5,2518.20 L1860.5,2518.20 L1863.5,2518.20 L1866.5,2518.20 L1869.5,2518.20 L1872.5,2518.20 L1875.5,2518.20 L1878.5,2518.19 L1881.5,2518.00 L1884.5,2517.63 L1887.5,2517.19 L1890.5,2516.84 L1893.5,2516.70 L1896.5,2516.81 L1899.5,2517.14 L1902.5,2517.57 L1905.5,2517.76 L1908.5,2517.33 L1911.5,2516.94 L1914.5,2516.72 L1917.5,2516.75 L1920.5,2517.01 L1923.5,2517.42 L1926.5,2517.84 L1929.5,2518.13 L1932.5,2518.20 L1935.5,2518.20 L1938.5,2518.20 L1941.5,2518.20 L1944.5,2518.20 L1947.5,2518.20 L1950.5,2518.20 L1953.5,2518.20 L1956.5,2518.16 L1959.5,2517.90 L1962.5,2517.49 L1965.5,2517.07 L1968.5,2516.78 L1971.5,2516.71 L1974.5,2516.89 L1977.5,2517.26 L1980.5,2517.70 L1983.5,2518.05 L1986.5,2518.20 L1989.5,2518.20 L1992.5,2518.20 L1995.5,2518.20 L1998.5,2518.20 L2001.5,2518.20 L2004.5,2518.20 L2007.5,2518.03 L2010.5,2517.67 L2013.5,2517.23 L2016.5,2516.87 L2019.5,2516.70 L2022.5,2516.79 L2025.5,2517.10 L2028.5,2517.52 L2031.5,2517.93 L2034.5,2518.17 L2037.5,2518.20 L2040.5,2518.20 L2043.5,2518.20 L2046.5,2518.20 L2049.5,2518.20 L2052.5,2518.20 L2055.5,2518.20 L2058.5,2518.20 L2061.5,2518.20 L2064.5,2518.20 L2067.5,2518.20 L2070.5,2518.19 L2073.5,2517.86 L2076.5,2517.14 L2079.5,2516.26 L2082.5,2515.54 L2085.5,2515.21 L2088.5,2515.38 L2091.5,2515.99 L2094.5,2516.85 L2097.5,2517.65 L2100.5,2518.14 L2103.5,2518.20 L2106.5,2518.20 L2109.5,2518.20 L2112.5,2518.20 L2115.5,2518.20 L2118.5,2518.20 L2121.5,2518.20 L2124.5,2518.20 L2127.5,2518.20 L2130.5,2518.20 L2133.5,2518.11 L2136.5,2517.80 L2139.5,2517.38 L2142.5,2516.97 L2145.5,2516.73 L2148.5,2516.73 L2151.5,2516.97 L2154.5,2517.38 L2157.5,2517.80 L2160.5,2518.11 L2163.5,2518.20 L2166.5,2518.20 L2169.5,2518.20 L2172.5,2518.20 L2175.5,2518.20 L2178.5,2518.03 L2181.5,2517.67 L2184.5,2517.23 L2187.5,2516.87 L2190.5,2516.70 L2193.5,2516.79 L2196.5,2517.10 L2199.5,2517.52 L2202.5,2517.93 L2205.5,2518.17 L2208.5,2518.20 L2211.5,2518.20 L2214.5,2518.20 L2217.5,2518.03 L2220.5,2517.67 L2223.5,2517.23 L2226.5,2516.87 L2229.5,2516.70 L2232.5,2516.79 L2235.5,2517.10 L2238.5,2517.52 L2241.5,2517.93 L2244.5,2518.17 L2247.5,2518.20 L2250.5,2518.20 L2253.5,2518.20 L2254.0,2518.20 L2254.0,2519.80 Z" fill="#000000"/>
<rect x="140.92" y="45.30" width="4.27" height="481.00" fill="#000"/>
<rect x="131.5" y="502.67" width="11.55" height="4.27" fill="#333333"/>
<text transform="matrix(1.0572 0 0 1.0207 99.89 517.93)" font-family="Liberation Sans, sans-serif" text-rendering="geometricPrecision" font-size="36" fill="#4D4D4D">0</text>
<rect x="131.5" y="383.36" width="11.55" height="4.27" fill="#333333"/>
<text transform="matrix(0.9953 0 0 1.0225 100.55 398.08)" font-family="Liberation Sans, sans-serif" text-rendering="geometricPrecision" font-size="36" fill="#4D4D4D">3</text>
<rect x="131.5" y="264.05" width="11.55" height="4.27" fill="#333333"/>
<text transform="matrix(1.1000 0 0 1.0245 99.55 279.13)" font-family="Liberation Sans, sans-serif" text-rendering="geometricPrecision" font-size="36" fill="#4D4D4D">6</text>
<rect x="131.5" y="144.74" width="11.55" height="4.27" fill="#333333"/>
<text transform="matrix(1.0965 0 0 1.0275 99.24 159.38)" font-family="Liberation Sans, sans-serif" text-rendering="geometricPrecision" font-size="36" fill="#4D4D4D">9</text>
<rect x="140.92" y="548.85" width="4.27" height="481.00" fill="#000"/>
<rect x="131.5" y="1006.22" width="11.55" height="4.27" fill="#333333"/>
<text transform="matrix(1.0572 0 0 1.0207 99.89 1021.28)" font-family="Liberation Sans, sans-serif" text-rendering="geometricPrecision" font-size="36" fill="#4D4D4D">0</text>
<rect x="131.5" y="886.90" width="11.55" height="4.27" fill="#333333"/>
<text transform="matrix(0.9953 0 0 1.0225 100.55 901.43)" font-family="Liberation Sans, sans-serif" text-rendering="geometricPrecision" font-size="36" fill="#4D4D4D">3</text>
<rect x="131.5" y="767.60" width="11.55" height="4.27" fill="#333333"/>
<text transform="matrix(1.1000 0 0 1.0245 99.55 782.48)" font-family="Liberation Sans, sans-serif" text-rendering="geometricPrecision" font-size="36" fill="#4D4D4D">6</text>
<rect x="131.5" y="648.29" width="11.55" height="4.27" fill="#333333"/>
<text transform="matrix(1.0965 0 0 1.0275 99.24 663.53)" font-family="Liberation Sans, sans-serif" text-rendering="geometricPrecision" font-size="36" fill="#4D4D4D">9</text>
<rect x="140.92" y="1052.40" width="4.27" height="481.00" fill="#000"/>
<rect x="131.5" y="1509.77" width="11.55" height="4.27" fill="#333333"/>
<text transform="matrix(1.0572 0 0 1.0207 99.89 1524.63)" font-family="Liberation Sans, sans-serif" text-rendering="geometricPrecision" font-size="36" fill="#4D4D4D">0</text>
<rect x="131.5" y="1390.46" width="11.55" height="4.27" fill="#333333"/>
<text transform="matrix(0.9953 0 0 1.0225 100.55 1405.58)" font-family="Liberation Sans, sans-serif" text-rendering="geometricPrecision" font-size="36" fill="#4D4D4D">3</text>
<rect x="131.5" y="1271.15" width="11.55" height="4.27" fill="#333333"/>
<text transform="matrix(1.1000 0 0 1.0245 99.55 1285.83)" font-family="Liberation Sans, sans-serif" text-rendering="geometricPrecision" font-size="36" fill="#4D4D4D">6</text>
<rect x="131.5" y="1151.84" width="11.55" height="4.27" fill="#333333"/>
<text transform="matrix(1.0965 0 0 1.0275 99.24 1166.88)" font-family="Liberation Sans, sans-serif" text-rendering="geometricPrecision" font-size="36" fill="#4D4D4D">9</text>
<rect x="140.92" y="1555.95" width="4.27" height="481.00" fill="#000"/>
<rect x="131.5" y="2013.32" width="11.55" height="4.27" fill="#333333"/>
<text transform="matrix(1.0572 0 0 1.0207 99.89 2027.98)" font-family="Liberation Sans, sans-serif" text-rendering="geometricPrecision" font-size="36" fill="#4D4D4D">0</text>
<rect x="131.5" y="1894.01" width="11.55" height="4.27" fill="#333333"/>
<text transform="matrix(0.9953 0 0 1.0225 100.55 1908.93)" font-family="Liberation Sans, sans-serif" text-rendering="geometricPrecision" font-size="36" fill="#4D4D4D">3</text>
<rect x="131.5" y="1774.69" width="11.55" height="4.27" fill="#333333"/>
<text transform="matrix(1.1000 0 0 1.0245 99.55 1789.98)" font-family="Liberation Sans, sans-serif" text-rendering="geometricPrecision" font-size="36" fill="#4D4D4D">6</text>
<rect x="131.5" y="1655.38" width="11.55" height="4.27" fill="#333333"/>
<text transform="matrix(1.0965 0 0 1.0275 99.24 1670.23)" font-family="Liberation Sans, sans-serif" text-rendering="geometricPrecision" font-size="36" fill="#4D4D4D">9</text>
<rect x="140.92" y="2059.50" width="4.27" height="481.00" fill="#000"/>
<rect x="131.5" y="2516.86" width="11.55" height="4.27" fill="#333333"/>
<text transform="matrix(1.0572 0 0 1.0207 99.89 2532.13)" font-family="Liberation Sans, sans-serif" text-rendering="geometricPrecision" font-size="36" fill="#4D4D4D">0</text>
<rect x="131.5" y="2397.55" width="11.55" height="4.27" fill="#333333"/>
<text transform="matrix(0.9953 0 0 1.0225 100.55 2412.28)" font-family="Liberation Sans, sans-serif" text-rendering="geometricPrecision" font-size="36" fill="#4D4D4D">3</text>
<rect x="131.5" y="2278.24" width="11.55" height="4.27" fill="#333333"/>
<text transform="matrix(1.1000 0 0 1.0245 99.55 2293.33)" font-family="Liberation Sans, sans-serif" text-rendering="geometricPrecision" font-size="36" fill="#4D4D4D">6</text>
<rect x="131.5" y="2158.93" width="11.55" height="4.27" fill="#333333"/>
<text transform="matrix(1.0965 0 0 1.0275 99.24 2173.58)" font-family="Liberation Sans, sans-serif" text-rendering="geometricPrecision" font-size="36" fill="#4D4D4D">9</text>
<text transform="matrix(1.0181 0 0 1.0150 173.24 298.80)" font-family="Liberation Sans, sans-serif" text-rendering="geometricPrecision" font-size="37" fill="#1A1A1A">KI-1</text>
<text transform="matrix(1.0207 0 0 1.0023 173.20 802.15)" font-family="Liberation Sans, sans-serif" text-rendering="geometricPrecision" font-size="37" fill="#1A1A1A">KI-2</text>
<text transform="matrix(1.0076 0 0 0.9920 164.35 1305.29)" font-family="Liberation Sans, sans-serif" text-rendering="geometricPrecision" font-size="37" fill="#1A1A1A">KO-1</text>
<text transform="matrix(1.0030 0 0 0.9920 164.66 1809.44)" font-family="Liberation Sans, sans-serif" text-rendering="geometricPrecision" font-size="37" fill="#1A1A1A">KO-2</text>
<text transform="matrix(1.1502 0 0 1.0172 160.53 2313.16)" font-family="Liberation Sans, sans-serif" text-rendering="geometricPrecision" font-size="37" fill="#1A1A1A">Input</text>
<rect x="140.92" y="2597.9" width="4.27" height="248.90" fill="#000"/>
<rect x="274.4" y="2845.16" width="2079.90" height="4.27" fill="#000"/>
<rect x="484.67" y="2847.3" width="4.27" height="11.4" fill="#333333"/>
<text transform="matrix(1.1524 0 0 1.0279 394.68 2893.83)" font-family="Liberation Sans, sans-serif" text-rendering="geometricPrecision" font-size="36" fill="#4D4D4D">44900000</text>
<rect x="1038.80" y="2847.3" width="4.27" height="11.4" fill="#333333"/>
<text transform="matrix(1.1524 0 0 1.0279 948.91 2893.83)" font-family="Liberation Sans, sans-serif" text-rendering="geometricPrecision" font-size="36" fill="#4D4D4D">44910000</text>
<rect x="1592.92" y="2847.3" width="4.27" height="11.4" fill="#333333"/>
<text transform="matrix(1.1502 0 0 1.0289 1503.09 2893.83)" font-family="Liberation Sans, sans-serif" text-rendering="geometricPrecision" font-size="36" fill="#4D4D4D">44920000</text>
<rect x="2147.05" y="2847.3" width="4.27" height="11.4" fill="#333333"/>
<text transform="matrix(1.1515 0 0 1.0293 2057.05 2893.83)" font-family="Liberation Sans, sans-serif" text-rendering="geometricPrecision" font-size="36" fill="#4D4D4D">44930000</text>
<text transform="matrix(1.1174 0 0 1.0000 1110.98 2944.50)" font-family="Liberation Sans, sans-serif" text-rendering="geometricPrecision" font-size="47" fill="#000000">chr7 position (bp)</text>
<text transform="matrix(0 -1.0155 1.0030 0 79.78 1547.36)" font-family="Liberation Sans, sans-serif" text-rendering="geometricPrecision" font-size="48" fill="#000000">P0 H3K4me3 ChIP-seq</text>
<text transform="matrix(0 -1.0179 1.0248 0 78.51 2794.88)" font-family="Liberation Sans, sans-serif" text-rendering="geometricPrecision" font-size="48" fill="#000000">Genes</text>
<path d="M507.2,2669.45 L2119.6,2669.45" stroke="#006400" stroke-width="4.6" stroke-linecap="round" fill="none"/>
<path d="M515.65,2661.10 L507.30,2669.45 L515.65,2677.80 M553.47,2661.10 L545.12,2669.45 L553.47,2677.80 M591.29,2661.10 L582.94,2669.45 L591.29,2677.80 M629.11,2661.10 L620.76,2669.45 L629.11,2677.80 M666.93,2661.10 L658.58,2669.45 L666.93,2677.80 M704.75,2661.10 L696.40,2669.45 L704.75,2677.80 M742.57,2661.10 L734.22,2669.45 L742.57,2677.80 M780.39,2661.10 L772.04,2669.45 L780.39,2677.80 M818.21,2661.10 L809.86,2669.45 L818.21,2677.80 M856.03,2661.10 L847.68,2669.45 L856.03,2677.80 M893.85,2661.10 L885.50,2669.45 L893.85,2677.80 M931.67,2661.10 L923.32,2669.45 L931.67,2677.80 M969.49,2661.10 L961.14,2669.45 L969.49,2677.80 M1007.31,2661.10 L998.96,2669.45 L1007.31,2677.80 M1045.13,2661.10 L1036.78,2669.45 L1045.13,2677.80 M1082.95,2661.10 L1074.60,2669.45 L1082.95,2677.80 M1120.77,2661.10 L1112.42,2669.45 L1120.77,2677.80 M1158.59,2661.10 L1150.24,2669.45 L1158.59,2677.80 M1196.41,2661.10 L1188.06,2669.45 L1196.41,2677.80 M1234.23,2661.10 L1225.88,2669.45 L1234.23,2677.80 M1272.05,2661.10 L1263.70,2669.45 L1272.05,2677.80 M1309.87,2661.10 L1301.52,2669.45 L1309.87,2677.80 M1347.69,2661.10 L1339.34,2669.45 L1347.69,2677.80 M1385.51,2661.10 L1377.16,2669.45 L1385.51,2677.80 M1423.33,2661.10 L1414.98,2669.45 L1423.33,2677.80 M1461.15,2661.10 L1452.80,2669.45 L1461.15,2677.80 M1498.97,2661.10 L1490.62,2669.45 L1498.97,2677.80 M1536.79,2661.10 L1528.44,2669.45 L1536.79,2677.80 M1574.61,2661.10 L1566.26,2669.45 L1574.61,2677.80 M1612.43,2661.10 L1604.08,2669.45 L1612.43,2677.80 M1650.25,2661.10 L1641.90,2669.45 L1650.25,2677.80 M1688.07,2661.10 L1679.72,2669.45 L1688.07,2677.80 M1725.89,2661.10 L1717.54,2669.45 L1725.89,2677.80 M1763.71,2661.10 L1755.36,2669.45 L1763.71,2677.80 M1801.53,2661.10 L1793.18,2669.45 L1801.53,2677.80 M1839.35,2661.10 L1831.00,2669.45 L1839.35,2677.80 M1877.17,2661.10 L1868.82,2669.45 L1877.17,2677.80 M1914.99,2661.10 L1906.64,2669.45 L1914.99,2677.80 M1952.81,2661.10 L1944.46,2669.45 L1952.81,2677.80 M1990.63,2661.10 L1982.28,2669.45 L1990.63,2677.80 M2028.45,2661.10 L2020.10,2669.45 L2028.45,2677.80 M2066.27,2661.10 L2057.92,2669.45 L2066.27,2677.80 M2104.09,2661.10 L2095.74,2669.45 L2104.09,2677.80" fill="none" stroke="#006400" stroke-width="4.1" stroke-linejoin="bevel" stroke-linecap="butt"/>
<rect x="507.2" y="2656.2" width="24.5" height="26.7" fill="#006400"/>
<rect x="541.0" y="2656.2" width="7.8" height="26.7" fill="#006400"/>
<rect x="555.2" y="2656.2" width="26.6" height="26.7" fill="#006400"/>
<rect x="639.0" y="2656.2" width="16.8" height="26.7" fill="#006400"/>
<rect x="661.0" y="2656.2" width="2.9" height="26.7" fill="#006400"/>
<rect x="678.4" y="2656.2" width="3.5" height="26.7" fill="#006400"/>
<rect x="694.1" y="2656.2" width="8.7" height="26.7" fill="#006400"/>
<rect x="707.6" y="2656.2" width="9.8" height="26.7" fill="#006400"/>
<rect x="721.2" y="2656.2" width="13.3" height="26.7" fill="#006400"/>
<rect x="744.3" y="2656.2" width="5.6" height="26.7" fill="#006400"/>
<rect x="801.5" y="2656.2" width="10.3" height="26.7" fill="#006400"/>
<rect x="823.2" y="2656.2" width="7.5" height="26.7" fill="#006400"/>
<rect x="836.3" y="2656.2" width="9.5" height="26.7" fill="#006400"/>
<rect x="864.9" y="2656.2" width="9.0" height="26.7" fill="#006400"/>
<rect x="914.1" y="2656.2" width="6.9" height="26.7" fill="#006400"/>
<rect x="997.2" y="2656.2" width="9.0" height="26.7" fill="#006400"/>
<rect x="1024.0" y="2656.2" width="8.0" height="26.7" fill="#006400"/>
<rect x="1364.2" y="2656.2" width="11.6" height="26.7" fill="#006400"/>
<rect x="1382.2" y="2656.2" width="8.7" height="26.7" fill="#006400"/>
<rect x="1394.9" y="2656.2" width="19.2" height="26.7" fill="#006400"/>
<rect x="1806.0" y="2656.2" width="5.8" height="26.7" fill="#006400"/>
<rect x="2067.9" y="2656.2" width="6.0" height="26.7" fill="#006400"/>
<rect x="2109.0" y="2656.2" width="12.0" height="26.7" fill="#006400"/>
<text transform="matrix(1.0798 0 0 1.0048 1267.01 2649.60)" font-family="Liberation Sans, sans-serif" text-rendering="geometricPrecision" font-size="30" fill="#000000">Ap2a1</text>
<path d="M369.5,2820.60 L632.4,2820.60" stroke="#00008B" stroke-width="4.3" stroke-linecap="round" fill="none"/>
<path d="M360.15,2812.25 L368.50,2820.60 L360.15,2828.95 M545.85,2812.25 L554.20,2820.60 L545.85,2828.95" fill="none" stroke="#00008B" stroke-width="4.1" stroke-linejoin="bevel" stroke-linecap="butt"/>
<rect x="386.0" y="2807.2" width="38.8" height="27.3" fill="#00008B"/>
<rect x="430.0" y="2807.2" width="91.7" height="27.3" fill="#00008B"/>
<rect x="556.1" y="2807.2" width="76.5" height="27.3" fill="#00008B"/>
<text transform="matrix(0.9722 0 0 1.0027 476.61 2800.88)" font-family="Liberation Sans, sans-serif" text-rendering="geometricPrecision" font-size="30" fill="#000000">Fuz</text>
</svg></body></html>
